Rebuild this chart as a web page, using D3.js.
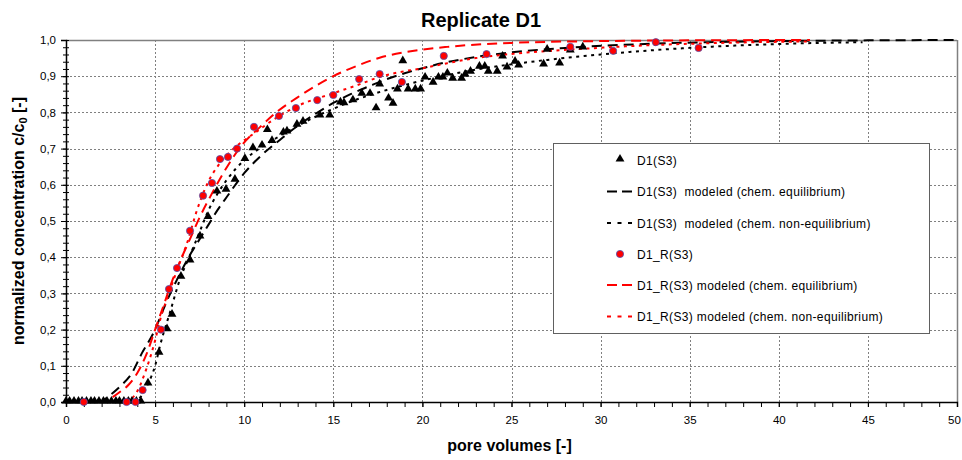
<!DOCTYPE html>
<html><head><meta charset="utf-8">
<script src="https://cdn.jsdelivr.net/npm/d3@7"></script>
<style>
body{margin:0;background:#fff;}
svg{font-family:"Liberation Sans",Arial,sans-serif;}
</style></head>
<body><svg id="c" width="962" height="460"></svg>
<script>
// ---- data ----
const title = "Replicate D1";
const xLabel = "pore volumes [-]";
const xTicks = [0,5,10,15,20,25,30,35,40,45,50];
const yTicks = [0,0.1,0.2,0.3,0.4,0.5,0.6,0.7,0.8,0.9,1.0];

const d1Points = [
 [0,0],[0.2,0],[0.45,0],[0.7,0],[0.9,0],[1.15,0],[1.4,0],[1.6,0],[1.85,0],[2.1,0],[2.3,0],[2.55,0],[2.8,0],[3.0,0],[3.25,0],[3.5,0],[3.7,0],[3.95,0],[4.2,0],
 [4.6,0.05],[5.22,0.135],[5.67,0.2],[5.95,0.24],[6.45,0.345],[6.96,0.39],[7.52,0.456],[7.97,0.51],[8.47,0.58],[8.98,0.585],[9.48,0.613],[10.04,0.67],[10.49,0.70],
 [11.0,0.707],[11.3,0.75],[11.56,0.72],[12.2,0.743],[12.4,0.746],[12.96,0.765],[13.3,0.773],[14.25,0.79],[14.8,0.79],[15.4,0.826],[15.6,0.824],[16.1,0.832],
 [16.6,0.85],[17.06,0.85],[17.4,0.81],[17.6,0.876],[18.1,0.837],[18.35,0.823],[18.6,0.862],[18.9,0.94],[19.2,0.862],[19.6,0.862],[19.9,0.862],[20.15,0.895],
 [20.6,0.881],[20.9,0.895],[21.15,0.895],[21.4,0.906],[21.7,0.892],[22.2,0.892],[22.4,0.903],[22.7,0.911],[23.2,0.925],[23.5,0.925],[23.7,0.911],[24.2,0.911],
 [24.5,0.953],[24.75,0.923],[25.2,0.939],[25.4,0.928],[26.8,0.931],[27.0,0.972],[27.7,0.934],[28.3,0.97],[29.0,0.978]
];
const d1rPoints = [
 [1.0,0],[3.4,0],[3.9,0],[4.3,0.033],[5.33,0.2],[5.78,0.312],[6.23,0.37],[6.96,0.473],[7.69,0.57],[8.19,0.605],[8.64,0.671],[9.09,0.677],[9.6,0.70],
 [10.55,0.76],[11.95,0.79],[12.9,0.812],[14.1,0.834],[15.0,0.848],[16.45,0.892],[17.6,0.906],[18.85,0.884],[21.2,0.956],[23.6,0.961],[28.3,0.981],
 [30.7,0.97],[33.1,0.994],[35.5,0.978]
];
const d1Eq = [
 [0,0],[1.8,0],[2.5,0.02],[3.1,0.046],[3.7,0.08],[4.26,0.135],[4.9,0.19],[5.67,0.28],[6.3,0.345],[7,0.41],[7.5,0.45],[8,0.49],[8.5,0.53],[9,0.565],
 [10,0.632],[11,0.683],[12,0.724],[13,0.763],[14,0.796],[15,0.826],[16,0.851],[17,0.872],[18,0.892],[19,0.908],[20,0.922],[21.4,0.939],[23,0.953],
 [25,0.966],[28,0.978],[32,0.988],[36,0.994],[40,0.997],[45,0.999],[50,1.0]
];
const d1NonEq = [
 [0,0],[3.8,0],[4.2,0.015],[4.6,0.05],[5,0.1],[5.3,0.16],[5.85,0.25],[6.4,0.34],[7,0.41],[7.5,0.47],[8,0.53],[8.5,0.575],[9,0.612],[10,0.668],
 [11,0.705],[12,0.735],[13,0.763],[14,0.788],[15,0.81],[16,0.83],[17,0.847],[18,0.862],[19.5,0.882],[21,0.899],[23.2,0.92],[25.5,0.936],[27,0.945],
 [30,0.96],[33,0.972],[36,0.981],[40,0.989],[44.7,0.994]
];
const d1rEq = [
 [0,0],[2.1,0],[2.5,0.01],[3,0.027],[3.5,0.047],[4,0.08],[4.5,0.13],[5,0.2],[5.5,0.27],[6,0.34],[6.5,0.40],[7,0.455],[7.5,0.51],[8.08,0.566],
 [8.92,0.64],[9.93,0.713],[10.9,0.76],[11.8,0.80],[13.1,0.845],[15,0.90],[16.5,0.932],[17.6,0.951],[19,0.966],[21.4,0.981],[25,0.992],[30,0.997],
 [35,0.999],[41.75,1.0]
];
const d1rNonEq = [
 [0,0],[3.3,0],[3.7,0.01],[4,0.03],[4.5,0.09],[5,0.17],[5.3,0.23],[5.7,0.29],[6.2,0.36],[6.8,0.44],[7.35,0.53],[7.9,0.60],[8.64,0.66],[9.65,0.71],
 [10.5,0.74],[11.8,0.785],[13.1,0.82],[15,0.853],[16.5,0.878],[17.6,0.898],[18.7,0.911],[20,0.922],[21.4,0.936],[23,0.95],[25.1,0.962],[28.8,0.975],
 [32,0.984],[36,0.991],[40,0.995],[41.75,0.996]
];
const legendLabels = [
 "D1(S3)",
 "D1(S3)  modeled (chem. equilibrium)",
 "D1(S3)  modeled (chem. non-equilibrium)",
 "D1_R(S3)",
 "D1_R(S3) modeled (chem. equilibrium)",
 "D1_R(S3) modeled (chem. non-equilibrium)"
];

// ---- chart ----
const svg = d3.select("#c");
const L = 66, R = 957, T = 40, B = 402;
const x = d3.scaleLinear().domain([0,50]).range([L,R]);
const y = d3.scaleLinear().domain([0,1]).range([B,T]);
const fmt = v => d3.format(".1f")(v).replace(".", ",");

// grid
const g = svg.append("g");
g.selectAll(".gx").data(xTicks.filter(v=>v>0&&v<50)).enter().append("line")
 .attr("x1",d=>Math.round(x(d))+0.5).attr("x2",d=>Math.round(x(d))+0.5).attr("y1",T).attr("y2",B)
 .attr("stroke","#808080").attr("stroke-width",1).attr("stroke-dasharray","2,2");
g.selectAll(".gy").data(yTicks.filter(v=>v>0&&v<1)).enter().append("line")
 .attr("x1",L).attr("x2",R).attr("y1",d=>Math.round(y(d))+0.5).attr("y2",d=>Math.round(y(d))+0.5)
 .attr("stroke","#808080").attr("stroke-width",1).attr("stroke-dasharray","2,2");
// frame top/right
svg.append("line").attr("x1",L).attr("x2",R).attr("y1",T+0.5).attr("y2",T+0.5).attr("stroke","#808080").attr("stroke-width",1.5);
svg.append("line").attr("x1",R+0.5).attr("x2",R+0.5).attr("y1",T).attr("y2",B).attr("stroke","#808080").attr("stroke-width",1.5);

// axes
const xAxis = d3.axisBottom(x).tickValues(xTicks).tickSize(5).tickPadding(9).tickFormat(d3.format("d"));
const xg = svg.append("g").attr("transform",`translate(0,${B})`).call(xAxis);
const xMinor = d3.axisBottom(x).tickValues(d3.range(0,51,1)).tickSize(5).tickFormat("");
svg.append("g").attr("transform",`translate(0,${B})`).call(xMinor).select(".domain").remove();
const yAxis = d3.axisLeft(y).tickValues(yTicks).tickSize(5).tickPadding(5).tickFormat(fmt);
const yg = svg.append("g").attr("transform",`translate(${L},0)`).call(yAxis);
const yMinor = d3.axisLeft(y).tickValues(d3.range(0,51).map(i=>i/50)).tickSize(3).tickFormat("");
const ym = svg.append("g").attr("transform",`translate(${L},0)`).call(yMinor);
ym.select(".domain").remove();
const yRight = d3.axisRight(y).tickValues(d3.range(0,51).map(i=>i/50)).tickSize(3).tickFormat("");
const yr = svg.append("g").attr("transform",`translate(${L},0)`).call(yRight);
yr.select(".domain").remove();
[xg,yg].forEach(a=>{a.selectAll("text").attr("font-size",11.5).attr("fill","#000").attr("font-family","Liberation Sans, Arial, sans-serif");
 a.select(".domain").attr("stroke","#000").attr("stroke-width",1.5);});
xg.selectAll(".tick text").filter(d=>d===50).attr("dx",-3);
svg.selectAll(".tick line").attr("stroke","#000");

// lines
const line = d3.line().x(d=>x(d[0])).y(d=>y(d[1])).curve(d3.curveMonotoneX);
const series = [
 {data:d1Eq, color:"#000", dash:"10,6"},
 {data:d1NonEq, color:"#000", dash:"3,4.5"},
 {data:d1rEq, color:"#ff0000", dash:"10,6"},
 {data:d1rNonEq, color:"#ff0000", dash:"3,4.5"}
];
svg.append("clipPath").attr("id","pc").append("rect").attr("x",L).attr("y",T-3).attr("width",R-L).attr("height",B-T+3);
series.forEach(s=>{
 svg.append("path").datum(s.data).attr("d",line).attr("fill","none")
  .attr("stroke",s.color).attr("stroke-width",2).attr("stroke-dasharray",s.dash).attr("clip-path","url(#pc)");
});

// markers
const tri = d3.symbol().type(d3.symbolTriangle).size(34);
svg.append("g").selectAll("path").data(d1Points).enter().append("path")
 .attr("d",tri).attr("transform",d=>`translate(${x(d[0])},${y(d[1])-1})`).attr("fill","#000");
svg.append("g").selectAll("circle").data(d1rPoints).enter().append("circle")
 .attr("cx",d=>x(d[0])).attr("cy",d=>y(d[1])).attr("r",3.6)
 .attr("fill","#ff0000").attr("stroke","#5050b0").attr("stroke-width",0.8);

// titles
svg.append("text").attr("x",481).attr("y",27).attr("text-anchor","middle")
 .attr("font-size",20).attr("font-weight","bold").text(title);
svg.append("text").attr("x",(L+R)/2 - 2).attr("y",451).attr("text-anchor","middle")
 .attr("font-size",16).attr("font-weight","bold").text(xLabel);
const yl = svg.append("text").attr("transform",`translate(24,${(T+B)/2}) rotate(-90)`).attr("text-anchor","middle")
 .attr("font-size",16).attr("font-weight","bold");
yl.append("tspan").text("normalized concentration c/c");
yl.append("tspan").attr("font-size",11).attr("dy",3).text("0");
yl.append("tspan").attr("dy",-3).text(" [-]");

// legend
const lg = svg.append("g");
lg.append("rect").attr("x",553.5).attr("y",143.5).attr("width",376).attr("height",190)
 .attr("fill","#fff").attr("stroke","#606060").attr("stroke-width",1);
const rowY = [160,191.5,223,254,285,316.5];
const legItems = [
 {type:"tri"},{type:"line",color:"#000",dash:"10,5"},{type:"line",color:"#000",dash:"4,6.5"},
 {type:"circ"},{type:"line",color:"#ff0000",dash:"10,5"},{type:"line",color:"#ff0000",dash:"4,6.5"}
];
legItems.forEach((it,i)=>{
 const yy = rowY[i];
 if(it.type==="tri") lg.append("path").attr("d",tri).attr("transform",`translate(620,${yy-1})`).attr("fill","#000");
 else if(it.type==="circ") lg.append("circle").attr("cx",620).attr("cy",yy).attr("r",3.6).attr("fill","#ff0000").attr("stroke","#5050b0").attr("stroke-width",0.8);
 else lg.append("line").attr("x1",607).attr("x2",632).attr("y1",yy).attr("y2",yy).attr("stroke",it.color).attr("stroke-width",2).attr("stroke-dasharray",it.dash);
 lg.append("text").attr("x",637).attr("y",yy+4.5).attr("font-size",12).attr("letter-spacing",0.35)
  .attr("xml:space","preserve").style("white-space","pre").text(legendLabels[i]);
});
</script></body></html>
